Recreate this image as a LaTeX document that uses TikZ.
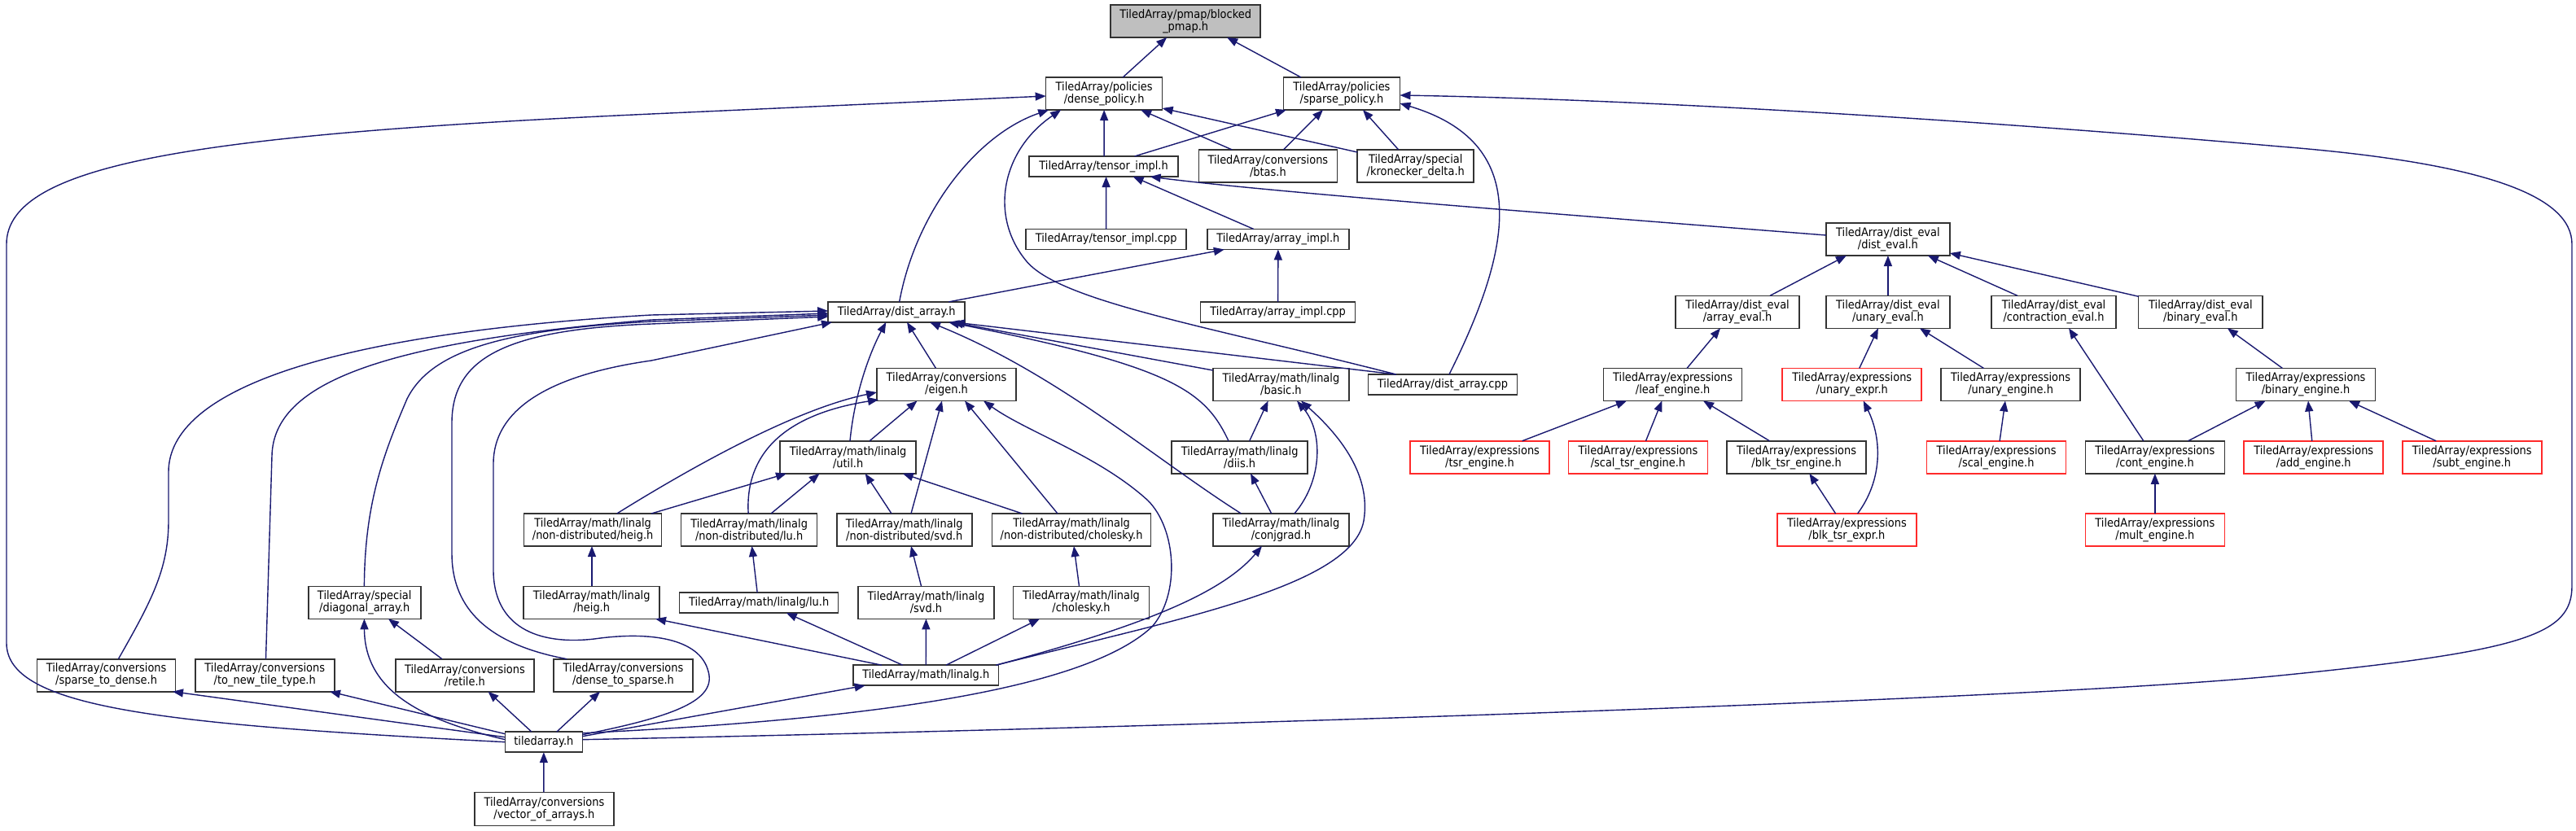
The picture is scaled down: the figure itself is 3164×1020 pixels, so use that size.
\documentclass[tikz,border=0pt]{standalone}
\usepackage{fontspec}
\usetikzlibrary{arrows.meta,calc}
\newfontfamily\boxfont{DejaVu Sans}[FakeStretch=0.9]
\definecolor{mblue}{HTML}{191970}
\definecolor{rootfill}{HTML}{BFBFBF}
\definecolor{bord}{HTML}{333333}
\definecolor{redb}{HTML}{FF2A2A}
\tikzset{
  box/.style={draw=bord, line width=1.6pt, fill=white, inner sep=0pt, align=center,
    font=\boxfont\fontsize{14.4}{15}\selectfont},
  redbox/.style={box, draw=redb},
  rootbox/.style={box, fill=rootfill, draw=bord},
  edge/.style={draw=mblue, line width=1.4pt, -{Triangle[length=13pt,width=10pt]}},
}
\begin{document}
\begin{tikzpicture}[x=1pt,y=-1pt]
\useasboundingbox (0,0) rectangle (3164,1020);
% ---- nodes ----
\node[rootbox,minimum width=184pt,minimum height=40pt] (pmap) at (1456.15,26) {TiledArray/pmap/blocked\\\_pmap.h};
\node[box,minimum width=143pt,minimum height=40pt] (dense) at (1356.15,115) {TiledArray/policies\\/dense\_policy.h};
\node[box,minimum width=143pt,minimum height=40pt] (sparse) at (1647.95,115) {TiledArray/policies\\/sparse\_policy.h};
\node[box,minimum width=183pt,minimum height=25pt] (tensorh) at (1355.6,204.5) {TiledArray/tensor\_impl.h};
\node[box,minimum width=170pt,minimum height=40pt] (btas) at (1557.35,204) {TiledArray/conversions\\/btas.h};
\node[box,minimum width=143pt,minimum height=40pt] (kron) at (1738.75,204) {TiledArray/special\\/kronecker\_delta.h};
\node[box,minimum width=197pt,minimum height=25pt] (tensorcpp) at (1358.65,294) {TiledArray/tensor\_impl.cpp};
\node[box,minimum width=174pt,minimum height=25pt] (arrayh) at (1569.85,294) {TiledArray/array\_impl.h};
\node[box,minimum width=152pt,minimum height=40pt] (disteval) at (2318.9,294) {TiledArray/dist\_eval\\/dist\_eval.h};
\node[box,minimum width=190pt,minimum height=25pt] (arraycpp) at (1569.65,383.4) {TiledArray/array\_impl.cpp};
\node[box,minimum width=168pt,minimum height=25pt] (distarrh) at (1101.25,383.4) {TiledArray/dist\_array.h};
\node[box,minimum width=152pt,minimum height=40pt] (arrayeval) at (2134,383.3) {TiledArray/dist\_eval\\/array\_eval.h};
\node[box,minimum width=152pt,minimum height=40pt] (unaryeval) at (2318.9,383.3) {TiledArray/dist\_eval\\/unary\_eval.h};
\node[box,minimum width=152.5pt,minimum height=40pt] (contreval) at (2522.5,383.3) {TiledArray/dist\_eval\\/contraction\_eval.h};
\node[box,minimum width=152.5pt,minimum height=40pt] (binaryeval) at (2702.85,383.3) {TiledArray/dist\_eval\\/binary\_eval.h};
\node[box,minimum width=171pt,minimum height=40pt] (eigen) at (1162.5,472.5) {TiledArray/conversions\\/eigen.h};
\node[box,minimum width=167pt,minimum height=40pt] (basic) at (1573.4,472.5) {TiledArray/math/linalg\\/basic.h};
\node[box,minimum width=183pt,minimum height=25pt] (distarrcpp) at (1771.95,472.7) {TiledArray/dist\_array.cpp};
\node[box,minimum width=170pt,minimum height=40pt] (leaf) at (2054.6,472.5) {TiledArray/expressions\\/leaf\_engine.h};
\node[redbox,minimum width=171pt,minimum height=40pt] (unaryexpr) at (2274.75,472.5) {TiledArray/expressions\\/unary\_expr.h};
\node[box,minimum width=171pt,minimum height=40pt] (unaryeng) at (2469.6,472.5) {TiledArray/expressions\\/unary\_engine.h};
\node[box,minimum width=171pt,minimum height=40pt] (binaryeng) at (2832,472.5) {TiledArray/expressions\\/binary\_engine.h};
\node[box,minimum width=167pt,minimum height=40pt] (util) at (1041.6,561.8) {TiledArray/math/linalg\\/util.h};
\node[box,minimum width=167pt,minimum height=40pt] (diis) at (1522.65,561.8) {TiledArray/math/linalg\\/diis.h};
\node[redbox,minimum width=171pt,minimum height=40pt] (tsreng) at (1817.5,561.8) {TiledArray/expressions\\/tsr\_engine.h};
\node[redbox,minimum width=171pt,minimum height=40pt] (scaltsr) at (2011.95,561.8) {TiledArray/expressions\\/scal\_tsr\_engine.h};
\node[box,minimum width=171pt,minimum height=40pt] (blktsreng) at (2206.6,561.8) {TiledArray/expressions\\/blk\_tsr\_engine.h};
\node[redbox,minimum width=171pt,minimum height=40pt] (scaleng) at (2452.1,561.8) {TiledArray/expressions\\/scal\_engine.h};
\node[box,minimum width=171pt,minimum height=40pt] (conteng) at (2646.85,561.8) {TiledArray/expressions\\/cont\_engine.h};
\node[redbox,minimum width=171pt,minimum height=40pt] (addeng) at (2841.75,561.8) {TiledArray/expressions\\/add\_engine.h};
\node[redbox,minimum width=171pt,minimum height=40pt] (subteng) at (3036.2,561.8) {TiledArray/expressions\\/subt\_engine.h};
\node[box,minimum width=169pt,minimum height=40pt] (ndheig) at (728.1,651) {TiledArray/math/linalg\\/non-distributed/heig.h};
\node[box,minimum width=167pt,minimum height=40pt] (ndlu) at (920.15,651) {TiledArray/math/linalg\\/non-distributed/lu.h};
\node[box,minimum width=166pt,minimum height=40pt] (ndsvd) at (1110.75,651) {TiledArray/math/linalg\\/non-distributed/svd.h};
\node[box,minimum width=195pt,minimum height=40pt] (ndchol) at (1316.1,651) {TiledArray/math/linalg\\/non-distributed/cholesky.h};
\node[box,minimum width=167pt,minimum height=40pt] (conjgrad) at (1573.4,651) {TiledArray/math/linalg\\/conjgrad.h};
\node[redbox,minimum width=171pt,minimum height=40pt] (blktsrexpr) at (2268.4,651) {TiledArray/expressions\\/blk\_tsr\_expr.h};
\node[redbox,minimum width=171pt,minimum height=40pt] (multeng) at (2646.85,651) {TiledArray/expressions\\/mult\_engine.h};
\node[box,minimum width=138pt,minimum height=40pt] (diag) at (447.7,740.3) {TiledArray/special\\/diagonal\_array.h};
\node[box,minimum width=167pt,minimum height=40pt] (heig) at (726.7,740.3) {TiledArray/math/linalg\\/heig.h};
\node[box,minimum width=195pt,minimum height=25pt] (lu) at (932.15,740.5) {TiledArray/math/linalg/lu.h};
\node[box,minimum width=167pt,minimum height=40pt] (svd) at (1137.45,740.3) {TiledArray/math/linalg\\/svd.h};
\node[box,minimum width=167pt,minimum height=40pt] (chol) at (1328,740.3) {TiledArray/math/linalg\\/cholesky.h};
\node[box,minimum width=170pt,minimum height=40pt] (s2d) at (130.6,829.7) {TiledArray/conversions\\/sparse\_to\_dense.h};
\node[box,minimum width=171pt,minimum height=40pt] (tonew) at (325.25,829.7) {TiledArray/conversions\\/to\_new\_tile\_type.h};
\node[box,minimum width=170pt,minimum height=40pt] (retile) at (570.9,829.7) {TiledArray/conversions\\/retile.h};
\node[box,minimum width=171pt,minimum height=40pt] (d2s) at (765.5,829.7) {TiledArray/conversions\\/dense\_to\_sparse.h};
\node[box,minimum width=178.5pt,minimum height=25pt] (linalg) at (1137.25,829.7) {TiledArray/math/linalg.h};
\node[box,minimum width=95pt,minimum height=25pt] (tiledarray) at (667.85,911.7) {tiledarray.h};
\node[box,minimum width=171pt,minimum height=41pt] (voa) at (668.4,993.8) {TiledArray/conversions\\/vector\_of\_arrays.h};
% ---- edges ----
\draw[edge] ($(dense)+(23,-20)$) -- ($(pmap)+(-23,20)$);
\draw[edge] ($(sparse)+(-50,-20)$) -- ($(pmap)+(51,20)$);
\draw[edge] ($(tiledarray)+(-47.45,0)$) .. controls (200,890) and (8,870) .. (8,790) -- (8,300) .. controls (8,200) and (250,165) .. (800,140) -- ($(dense)+(-71.5,3)$);
\draw[edge] ($(distarrh)+(3.4,-12.5)$) .. controls (1125,260) and (1200,165) .. ($(dense)+(-68,20)$);
\draw[edge] ($(distarrcpp)+(-57.15,-12.7)$) .. controls (1480,400) and (1300,370) .. (1260,320) .. controls (1215,265) and (1230,185) .. ($(dense)+(-53,20)$);
\draw[edge] ($(tensorh)+(0.5,-12.5)$) -- ($(dense)+(0,20)$);
\draw[edge] ($(btas)+(-44,-20)$) -- ($(dense)+(45,20)$);
\draw[edge] ($(kron)+(-71.5,-17)$) -- ($(dense)+(71.5,18)$);
\draw[edge] ($(tensorh)+(38,-12.5)$) -- ($(sparse)+(-68,20)$);
\draw[edge] ($(btas)+(19,-20)$) -- ($(sparse)+(-23,20)$);
\draw[edge] ($(kron)+(-21,-20)$) -- ($(sparse)+(26,20)$);
\draw[edge] ($(distarrcpp)+(8,-12.7)$) .. controls (1860,300) and (1880,175) .. ($(sparse)+(71.5,12)$);
\draw[edge] ($(tiledarray)+(47.45,-3)$) .. controls (1400,895) and (2500,860) .. (2800,830) .. controls (3100,800) and (3159,780) .. (3159,720) -- (3159,300) .. controls (3159,240) and (3050,200) .. (2800,180) .. controls (2400,145) and (2000,122) .. ($(sparse)+(71.5,2)$);
\draw[edge] ($(tensorcpp)+(0,-12.5)$) -- ($(tensorh)+(3,12.5)$);
\draw[edge] ($(arrayh)+(-30,-12.5)$) -- ($(tensorh)+(36,12.5)$);
\draw[edge] ($(disteval)+(-76,-5)$) .. controls (1900,262) and (1550,235) .. ($(tensorh)+(57,12.5)$);
\draw[edge] ($(arraycpp)+(0,-12.5)$) -- ($(arrayh)+(0,12.5)$);
\draw[edge] ($(distarrh)+(64,-12.5)$) -- ($(arrayh)+(-66,12.5)$);
\draw[edge] ($(arrayeval)+(40,-20)$) -- ($(disteval)+(-51,20)$);
\draw[edge] ($(unaryeval)+(0,-20)$) -- ($(disteval)+(0,20)$);
\draw[edge] ($(contreval)+(-44.5,-20)$) -- ($(disteval)+(49,20)$);
\draw[edge] ($(binaryeval)+(-76,-19)$) -- ($(disteval)+(76,17)$);
\draw[edge] ($(leaf)+(17.4,-20)$) -- ($(arrayeval)+(-21,20)$);
\draw[edge] ($(unaryexpr)+(9,-20)$) -- ($(unaryeval)+(-12,20)$);
\draw[edge] ($(unaryeng)+(-33,-20)$) -- ($(unaryeval)+(39,20)$);
\draw[edge] ($(conteng)+(-14,-20)$) -- ($(contreval)+(18.5,20)$);
\draw[edge] ($(binaryeng)+(-28.5,-20)$) -- ($(binaryeval)+(33,20)$);
\draw[edge] ($(tsreng)+(52,-20)$) -- ($(leaf)+(-56.6,20)$);
\draw[edge] ($(scaltsr)+(9.5,-20)$) -- ($(leaf)+(-13.3,20)$);
\draw[edge] ($(blktsreng)+(-33,-20)$) -- ($(leaf)+(37.4,20)$);
\draw[edge] ($(blktsrexpr)+(13.2,-20)$) .. controls (2312,590) and (2312,540) .. ($(unaryexpr)+(14,20)$);
\draw[edge] ($(blktsrexpr)+(-13.8,-20)$) -- ($(blktsreng)+(15.8,20)$);
\draw[edge] ($(scaleng)+(4,-20)$) -- ($(unaryeng)+(-6.6,20)$);
\draw[edge] ($(conteng)+(40.6,-20)$) -- ($(binaryeng)+(-49.4,20)$);
\draw[edge] ($(addeng)+(-2,-20)$) -- ($(binaryeng)+(3,20)$);
\draw[edge] ($(subteng)+(-44,-20)$) -- ($(binaryeng)+(53,20)$);
\draw[edge] ($(multeng)+(0,-20)$) -- ($(conteng)+(0,20)$);
\draw[edge] ($(util)+(2.4,-20)$) .. controls (1050,480) and (1070,430) .. ($(distarrh)+(-13,12.5)$);
\draw[edge] ($(eigen)+(-13,-20)$) -- ($(distarrh)+(12.75,12.5)$);
\draw[edge] ($(conjgrad)+(-48.9,-20)$) .. controls (1420,565) and (1300,460) .. ($(distarrh)+(40.75,12.5)$);
\draw[edge] ($(basic)+(-83.6,-17.5)$) -- ($(distarrh)+(68.75,12.5)$);
\draw[edge] ($(diis)+(-13.65,-20)$) .. controls (1480,480) and (1440,450) .. ($(distarrh)+(63.75,12.5)$);
\draw[edge] ($(distarrcpp)+(-57.15,-12.7)$) -- ($(distarrh)+(70.75,12.5)$);
\draw[edge] ($(ndheig)+(29.6,-20)$) .. controls (880,555) and (990,500) .. ($(eigen)+(-85.5,9.5)$);
\draw[edge] ($(ndlu)+(-1,-20)$) .. controls (915,560) and (960,510) .. ($(eigen)+(-83.5,18.5)$);
\draw[edge] ($(util)+(26.4,-20)$) -- ($(eigen)+(-36,20)$);
\draw[edge] ($(ndsvd)+(8.25,-20)$) -- ($(eigen)+(-5.5,20)$);
\draw[edge] ($(ndchol)+(-17.1,-20)$) -- ($(eigen)+(22.5,20)$);
\draw[edge] ($(tiledarray)+(47.45,-11)$) .. controls (1050,885) and (1330,850) .. (1415,770) .. controls (1450,730) and (1445,650) .. (1410,615) .. controls (1350,560) and (1260,530) .. ($(eigen)+(45.5,20)$);
\draw[edge] ($(heig)+(0.3,-20)$) -- ($(ndheig)+(-1.1,20)$);
\draw[edge] ($(ndheig)+(71.9,-20)$) -- ($(util)+(-75.6,20)$);
\draw[edge] ($(ndlu)+(26.85,-20)$) -- ($(util)+(-35,20)$);
\draw[edge] ($(ndsvd)+(-15.75,-20)$) -- ($(util)+(21.1,20)$);
\draw[edge] ($(ndchol)+(-60.5,-20)$) -- ($(util)+(67.1,20)$);
\draw[edge] ($(lu)+(-2,-12.5)$) -- ($(ndlu)+(3.35,20)$);
\draw[edge] ($(svd)+(-5.85,-20)$) -- ($(ndsvd)+(8.25,20)$);
\draw[edge] ($(chol)+(-2.5,-20)$) -- ($(ndchol)+(2.9,20)$);
\draw[edge] ($(conjgrad)+(-11.7,-20)$) -- ($(diis)+(13.35,20)$);
\draw[edge] ($(diis)+(12,-20)$) -- ($(basic)+(-15.8,20)$);
\draw[edge] ($(conjgrad)+(16.4,-20)$) .. controls (1625,590) and (1625,530) .. ($(basic)+(19.6,20)$);
\draw[edge] ($(linalg)+(86.25,-12.5)$) .. controls (1450,760) and (1660,720) .. (1675,640) .. controls (1685,580) and (1640,530) .. ($(basic)+(24.6,20)$);
\draw[edge] ($(linalg)+(86.25,-12.5)$) .. controls (1400,770) and (1500,730) .. ($(conjgrad)+(-23.4,20)$);
\draw[edge] ($(linalg)+(-28.55,-12.5)$) -- ($(lu)+(33.65,12.5)$);
\draw[edge] ($(linalg)+(0,-12.5)$) -- ($(svd)+(0,20)$);
\draw[edge] ($(linalg)+(24.75,-12.5)$) -- ($(chol)+(-51,20)$);
\draw[edge] ($(linalg)+(-54.25,-12.5)$) -- ($(heig)+(78.3,20)$);
\draw[edge] ($(tiledarray)+(47.45,-7)$) -- ($(linalg)+(-74.55,12.5)$);
\draw[edge] ($(s2d)+(14.8,-20)$) .. controls (185,740) and (207,700) .. (207,640) -- (207,580) .. controls (207,480) and (400,410) .. (800,387) -- ($(distarrh)+(-84,-1.4)$);
\draw[edge] ($(tonew)+(1.25,-20)$) -- (334,560) .. controls (336,470) and (470,420) .. (800,393) -- ($(distarrh)+(-84,1.6)$);
\draw[edge] ($(diag)+(-0.3,-20)$) .. controls (448,620) and (470,560) .. (500,490) .. controls (530,430) and (620,405) .. (800,395) -- ($(distarrh)+(-84,3.6)$);
\draw[edge] ($(d2s)+(-69.1,-20)$) .. controls (590,790) and (555,740) .. (555,680) -- (555,520) .. controls (555,440) and (620,405) .. (800,398) -- ($(distarrh)+(-84,5.6)$);
\draw[edge] ($(tiledarray)+(47.45,-9)$) .. controls (830,880) and (880,860) .. (870,825) .. controls (860,785) and (800,775) .. (730,785) .. controls (660,793) and (606,770) .. (606,700) -- (606,570) .. controls (606,500) and (680,460) .. (800,443) -- ($(distarrh)+(-79.25,12.5)$);
\draw[edge] ($(tiledarray)+(-47.45,-6)$) -- ($(s2d)+(81.4,20)$);
\draw[edge] ($(tiledarray)+(-47.45,-10)$) -- ($(tonew)+(79.75,20)$);
\draw[edge] ($(tiledarray)+(-47.45,-3)$) .. controls (520,885) and (448,850) .. ($(diag)+(-0.3,20)$);
\draw[edge] ($(tiledarray)+(-14.85,-12.5)$) -- ($(retile)+(28.6,20)$);
\draw[edge] ($(tiledarray)+(15.85,-12.5)$) -- ($(d2s)+(-28.5,20)$);
\draw[edge] ($(retile)+(-27.9,-20)$) -- ($(diag)+(29.3,20)$);
\draw[edge] ($(voa)+(-0.5,-20.5)$) -- ($(tiledarray)+(0,12.5)$);
\end{tikzpicture}
\end{document}
